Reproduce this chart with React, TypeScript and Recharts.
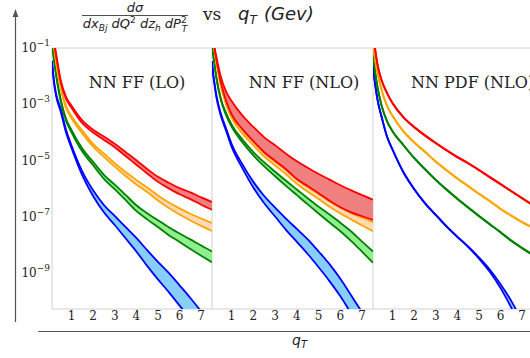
import React from 'react';
import { ComposedChart, Area, Line, XAxis, YAxis, ReferenceArea } from 'recharts';

// q_T grid shared by all curves
const qT = [0.1, 0.15, 0.2, 0.3, 0.5, 0.75, 1, 1.5, 2, 2.5, 3, 3.5, 4, 4.5, 5, 5.5, 6, 6.5, 7, 7.5];
const xTicks = [1, 2, 3, 4, 5, 6, 7];
const yTicks = [-9, -7, -5, -3, -1]; // log10 of the cross section

// NN FF (LO) - log10 values, upper / lower edge of each band
const loRedHigh = [-0.17, -0.47, -0.77, -1.25, -2.13, -2.73, -3.04, -3.57, -3.9, -4.14, -4.4, -4.69, -4.98, -5.29, -5.57, -5.78, -5.97, -6.12, -6.3, -6.46];
const loRedLow = [-0.23, -0.53, -0.83, -1.31, -2.19, -2.81, -3.12, -3.67, -4.0, -4.26, -4.52, -4.83, -5.14, -5.45, -5.75, -5.98, -6.19, -6.36, -6.56, -6.74];
const loOrangeHigh = [-0.37, -0.72, -0.97, -1.52, -2.37, -3.06, -3.41, -3.93, -4.4, -4.74, -5.09, -5.4, -5.68, -5.95, -6.23, -6.48, -6.69, -6.88, -7.05, -7.21];
const loOrangeLow = [-0.43, -0.78, -1.03, -1.58, -2.43, -3.14, -3.49, -4.03, -4.5, -4.86, -5.21, -5.54, -5.84, -6.11, -6.41, -6.68, -6.91, -7.12, -7.31, -7.49];
const loGreenHigh = [-0.82, -1.12, -1.42, -1.97, -2.82, -3.51, -3.91, -4.57, -5.04, -5.5, -5.85, -6.21, -6.58, -6.86, -7.11, -7.36, -7.58, -7.79, -8.01, -8.22];
const loGreenLow = [-0.88, -1.18, -1.48, -2.03, -2.88, -3.59, -3.99, -4.67, -5.16, -5.64, -6.01, -6.39, -6.78, -7.08, -7.35, -7.64, -7.88, -8.13, -8.37, -8.6];
const loBlueHigh = [-1.45, -1.86, -2.21, -2.66, -3.15, -3.9, -4.45, -5.38, -6.05, -6.57, -6.96, -7.35, -7.74, -8.17, -8.59, -8.98, -9.42, -9.87, -10.35, -10.88];
const loBlueLow = [-1.53, -1.94, -2.29, -2.74, -3.25, -4.0, -4.55, -5.52, -6.25, -6.83, -7.28, -7.75, -8.22, -8.73, -9.21, -9.66, -10.14, -10.63, -11.15, -11.72];

// NN FF (NLO)
const nloRedHigh = [-0.3, -0.6, -0.9, -1.3, -2.0, -2.55, -2.88, -3.4, -3.8, -4.17, -4.45, -4.75, -5.02, -5.25, -5.47, -5.67, -5.87, -6.05, -6.22, -6.38];
const nloRedLow = [-0.35, -0.65, -0.95, -1.4, -2.2, -2.88, -3.35, -3.88, -4.3, -4.7, -5.0, -5.3, -5.65, -5.9, -6.15, -6.42, -6.65, -6.83, -6.97, -7.1];
const nloOrangeHigh = [-0.4, -0.7, -1.0, -1.45, -2.25, -2.92, -3.38, -3.92, -4.33, -4.72, -5.03, -5.33, -5.67, -5.93, -6.18, -6.44, -6.67, -6.86, -7.02, -7.17];
const nloOrangeLow = [-0.45, -0.75, -1.05, -1.52, -2.35, -3.02, -3.48, -4.04, -4.45, -4.85, -5.17, -5.48, -5.82, -6.1, -6.36, -6.63, -6.87, -7.08, -7.3, -7.5];
const nloGreenHigh = [-0.82, -1.17, -1.47, -2.02, -2.77, -3.31, -3.71, -4.25, -4.69, -5.06, -5.39, -5.71, -6.02, -6.33, -6.63, -6.91, -7.2, -7.51, -7.87, -8.22];
const nloGreenLow = [-0.88, -1.23, -1.53, -2.08, -2.83, -3.39, -3.79, -4.35, -4.81, -5.2, -5.55, -5.89, -6.22, -6.55, -6.87, -7.19, -7.5, -7.85, -8.23, -8.62];
const nloBlueHigh = [-1.46, -1.86, -2.16, -2.66, -3.31, -3.86, -4.4, -5.13, -5.75, -6.25, -6.66, -7.05, -7.42, -7.79, -8.22, -8.67, -9.19, -9.78, -10.38, -10.97];
const nloBlueLow = [-1.54, -1.94, -2.24, -2.74, -3.39, -3.94, -4.5, -5.27, -5.95, -6.51, -6.98, -7.45, -7.88, -8.31, -8.78, -9.27, -9.81, -10.42, -11.02, -11.63];

// NN PDF (NLO)
const pdfRedHigh = [-0.49, -0.79, -1.04, -1.54, -2.14, -2.59, -2.94, -3.44, -3.79, -4.09, -4.36, -4.62, -4.86, -5.08, -5.32, -5.57, -5.82, -6.07, -6.32, -6.57];
const pdfRedLow = [-0.51, -0.81, -1.06, -1.56, -2.16, -2.61, -2.96, -3.46, -3.81, -4.11, -4.38, -4.64, -4.88, -5.1, -5.34, -5.59, -5.84, -6.09, -6.34, -6.59];
const pdfOrangeHigh = [-0.89, -1.14, -1.39, -1.84, -2.49, -3.04, -3.39, -3.94, -4.34, -4.67, -5.02, -5.33, -5.62, -5.89, -6.16, -6.42, -6.7, -6.94, -7.17, -7.37];
const pdfOrangeLow = [-0.91, -1.16, -1.41, -1.86, -2.51, -3.06, -3.41, -3.96, -4.36, -4.69, -5.04, -5.35, -5.64, -5.91, -6.18, -6.44, -6.72, -6.96, -7.19, -7.39];
const pdfGreenHigh = [-0.94, -1.49, -1.84, -2.34, -3.04, -3.59, -3.94, -4.43, -4.89, -5.29, -5.67, -6.01, -6.34, -6.65, -6.95, -7.24, -7.53, -7.83, -8.09, -8.34];
const pdfGreenLow = [-0.96, -1.51, -1.86, -2.36, -3.06, -3.61, -3.96, -4.45, -4.91, -5.31, -5.69, -6.03, -6.36, -6.67, -6.97, -7.26, -7.55, -7.85, -8.11, -8.36];
const pdfBlueHigh = [-1.59, -1.99, -2.29, -2.79, -3.44, -4.14, -4.59, -5.39, -5.99, -6.49, -6.91, -7.32, -7.69, -8.04, -8.43, -8.86, -9.38, -9.98, -10.69, -11.4];
const pdfBlueLow = [-1.61, -2.01, -2.31, -2.81, -3.46, -4.16, -4.61, -5.41, -6.01, -6.51, -6.93, -7.34, -7.71, -8.06, -8.47, -8.94, -9.52, -10.22, -11.01, -11.8];

const colors: Record<string, { line: string; fill: string }> = {
  blue: { line: '#0000ff', fill: '#87cefa' },
  green: { line: '#008000', fill: '#90ee90' },
  orange: { line: '#ffa500', fill: '#ffdab9' },
  red: { line: '#ff0000', fill: '#f08080' },
};
const order = ['blue', 'green', 'orange', 'red'];

function makeRows(bands: Record<string, [number[], number[]]>) {
  return qT.map((x, i) => {
    const row: any = { x };
    for (const [k, [hi, lo]] of Object.entries(bands)) {
      row[k + 'Hi'] = hi[i];
      row[k + 'Lo'] = lo[i];
      row[k + 'Band'] = [lo[i], hi[i]];
    }
    return row;
  });
}

const loRows = makeRows({
  red: [loRedHigh, loRedLow],
  orange: [loOrangeHigh, loOrangeLow],
  green: [loGreenHigh, loGreenLow],
  blue: [loBlueHigh, loBlueLow],
});
const nloRows = makeRows({
  red: [nloRedHigh, nloRedLow],
  orange: [nloOrangeHigh, nloOrangeLow],
  green: [nloGreenHigh, nloGreenLow],
  blue: [nloBlueHigh, nloBlueLow],
});
const pdfRows = makeRows({
  red: [pdfRedHigh, pdfRedLow],
  orange: [pdfOrangeHigh, pdfOrangeLow],
  green: [pdfGreenHigh, pdfGreenLow],
  blue: [pdfBlueHigh, pdfBlueLow],
});

const Y_MIN = -10.26;
const Y_MAX = -1;

const PowTick = (props: any) => {
  const { x, y, payload } = props;
  return (
    <text x={x} y={y} textAnchor='end' fontFamily='DejaVu Serif' fontSize={12} fill='#222'>
      <tspan dy={4}>10</tspan>
      <tspan dy={-6} fontSize={9}>{'\u2212' + Math.abs(payload.value)}</tspan>
    </text>
  );
};

function Panel({ rows, left, width, showY }: { rows: any[]; left: number; width: number; showY?: boolean }) {
  const yw = showY ? 52 : 0;
  return (
    <div style={{ position: 'absolute', left, top: 0 }}>
      <ComposedChart width={width + yw} height={330} data={rows} margin={{ top: 48, right: 0, bottom: 0, left: 0 }}>
        <XAxis
          dataKey='x'
          type='number'
          domain={[0.1, 7.5]}
          ticks={xTicks}
          interval={0}
          allowDataOverflow
          axisLine={false}
          tickLine={{ stroke: '#d0d0d0' }}
          tickSize={2}
          tickMargin={0}
          height={21}
          tick={{ fontSize: 12, fill: '#222', fontFamily: 'DejaVu Serif' }}
        />
        <YAxis
          type='number'
          domain={[Y_MIN, Y_MAX]}
          ticks={yTicks}
          allowDataOverflow
          hide={!showY}
          width={yw}
          axisLine={false}
          tickLine={false}
          tickSize={0}
          tickMargin={2}
          tick={<PowTick />}
        />
        <ReferenceArea x1={0.1} x2={7.5} y1={Y_MIN} y2={Y_MAX} fill='none' stroke='#d0d0d0' strokeWidth={1} ifOverflow='visible' />
        {order.map((c) => (
          <Area
            key={c + 'band'}
            type='monotone'
            dataKey={c + 'Band'}
            stroke='none'
            fill={colors[c].fill}
            fillOpacity={1}
            isAnimationActive={false}
            dot={false}
            activeDot={false}
          />
        ))}
        {order.flatMap((c) =>
          ['Hi', 'Lo'].map((s) => (
            <Line
              key={c + s}
              type='monotone'
              dataKey={c + s}
              stroke={colors[c].line}
              strokeWidth={1.8}
              dot={false}
              activeDot={false}
              isAnimationActive={false}
            />
          ))
        )}
      </ComposedChart>
    </div>
  );
}

export default function App() {
  const ink = '#222';
  return (
    <div style={{ position: 'absolute', left: 0, top: 0, width: 530, height: 358, overflow: 'hidden', background: '#fff' }}>
      <Panel rows={loRows} left={0} width={160} showY />
      <Panel rows={nloRows} left={212} width={161} />
      <Panel rows={pdfRows} left={373} width={160} />
      <svg width={530} height={358} style={{ position: 'absolute', left: 0, top: 0, pointerEvents: 'none' }}>
        {/* outer axes */}
        <line x1={15.5} y1={15} x2={15.5} y2={322} stroke='#555' strokeWidth={1.2} />
        <polygon points='15.5,9 12.6,17 18.4,17' fill='#555' />
        <line x1={38} y1={331.5} x2={530} y2={331.5} stroke='#555' strokeWidth={1.2} />
        <text x={292} y={345} fontFamily='DejaVu Sans' fontStyle='italic' fontSize={14} fill={ink}>
          q<tspan dy={3} fontSize={10}>T</tspan>
        </text>
        {/* title */}
        <text x={135} y={12} textAnchor='middle' fontFamily='DejaVu Sans' fontStyle='italic' fontSize={13} fill={ink}>
          dσ
        </text>
        <line x1={82} y1={15.5} x2={188} y2={15.5} stroke={ink} strokeWidth={0.8} />
        <text x={135} y={28} textAnchor='middle' fontFamily='DejaVu Sans' fontStyle='italic' fontSize={13} fill={ink}>
          dx<tspan dy={3} fontSize={9}>Bj</tspan>
          <tspan dy={-3}> dQ</tspan>
          <tspan dy={-5} fontSize={9} fontStyle='normal'>2</tspan>
          <tspan dy={5}> dz</tspan>
          <tspan dy={3} fontSize={9}>h</tspan>
          <tspan dy={-3}> dP</tspan>
          <tspan dy={-5} fontSize={9} fontStyle='normal'>2</tspan>
          <tspan dx={-5} dy={9} fontSize={9}>T</tspan>
        </text>
        <text x={203} y={20} fontFamily='DejaVu Serif' fontSize={17} fill={ink}>
          vs
        </text>
        <text x={238} y={20} fontFamily='DejaVu Sans' fontStyle='italic' fontSize={18} fill={ink}>
          q<tspan dy={4} fontSize={12}>T</tspan>
          <tspan x={264} dy={-4}>(Gev)</tspan>
        </text>
        {/* panel labels */}
        <text x={137} y={88} textAnchor='middle' fontFamily='DejaVu Serif' fontSize={16} fill={ink}>
          NN FF (LO)
        </text>
        <text x={304} y={88} textAnchor='middle' fontFamily='DejaVu Serif' fontSize={16} fill={ink}>
          NN FF (NLO)
        </text>
        <text x={411} y={88} fontFamily='DejaVu Serif' fontSize={16} fill={ink}>
          NN PDF (NLO)
        </text>
      </svg>
    </div>
  );
}
